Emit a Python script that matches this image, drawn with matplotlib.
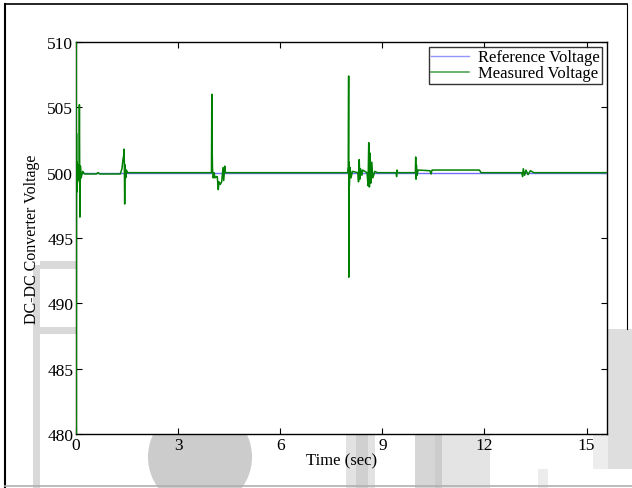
import matplotlib
matplotlib.use('Agg')
import matplotlib.pyplot as plt
from matplotlib.patches import Rectangle, Circle
from matplotlib.lines import Line2D
from matplotlib.transforms import IdentityTransform

# Reference DC-link voltage (constant set point)
ref_time = [0.0, 15.6]
ref_volt = [500.0, 500.0]

# Measured DC-DC converter output voltage
meas_time = [
    0.000, 0.003, 0.008, 0.015, 0.020, 0.030, 0.040, 0.050, 0.060, 0.070,
    0.090, 0.100, 0.115, 0.130, 0.150, 0.200, 0.250, 0.600, 0.650, 0.700,
    1.300, 1.350, 1.380, 1.400, 1.410, 1.420, 1.430, 1.440, 1.460, 1.480,
    1.520, 3.980, 3.990, 4.000, 4.010, 4.030, 4.060, 4.080, 4.120, 4.150,
    4.180, 4.200, 4.240, 4.280, 4.320, 4.340, 4.370, 4.390, 7.980, 8.000,
    8.010, 8.015, 8.020, 8.030, 8.050, 8.080, 8.120, 8.280, 8.300, 8.320,
    8.340, 8.360, 8.400, 8.420, 8.550, 8.580, 8.600, 8.620, 8.640, 8.660,
    8.690, 8.720, 8.780, 8.850, 9.400, 9.420, 9.430, 9.450, 9.970, 9.980,
    9.990, 10.000, 10.020, 10.050, 10.400, 10.430, 10.460, 11.850, 11.900, 13.100,
    13.120, 13.140, 13.180, 13.220, 13.280, 13.350, 13.450, 15.600,
]
meas_volt = [
    470.0, 515.0, 478.0, 503.0, 498.5, 500.8, 499.2, 500.6, 499.4, 500.3,
    499.8, 505.2, 496.6, 500.5, 499.6, 500.1, 499.9, 499.9, 500.0, 499.9,
    499.9, 500.3, 501.0, 501.3, 501.8, 500.8, 497.6, 500.6, 499.6, 500.2,
    500.0, 500.0, 506.0, 502.0, 500.3, 499.6, 500.0, 499.6, 499.7, 499.7,
    498.7, 499.3, 499.1, 499.3, 500.4, 499.4, 500.5, 500.0, 500.0, 500.5,
    507.4, 492.0, 500.8, 499.0, 500.4, 499.6, 500.1, 500.0, 499.3, 501.0,
    499.5, 500.3, 499.8, 500.2, 500.0, 499.0, 502.3, 498.9, 501.5, 499.2,
    500.8, 499.6, 500.1, 500.0, 500.0, 499.7, 500.2, 500.0, 500.0, 501.2,
    499.5, 500.6, 499.8, 500.2, 500.15, 499.9, 500.2, 500.2, 500.0, 500.0,
    499.7, 500.3, 499.8, 500.2, 499.85, 500.15, 500.0, 500.0,
]

x_ticks = [0, 3, 6, 9, 12, 15]
y_ticks = [480, 485, 490, 495, 500, 505, 510]

W, H = 632, 489
plt.rcParams['font.family'] = ['Liberation Serif', 'DejaVu Serif']
fig = plt.figure(figsize=(W / 100, H / 100), dpi=100)


def gray_box(x0, y0, x1, y1, c):
    # box given in pixels, measured from the top-left corner
    fig.add_artist(Rectangle((x0 / W, 1 - y1 / H), (x1 - x0) / W, (y1 - y0) / H,
                             transform=fig.transFigure, color=c, lw=0, zorder=0))


# faint grey background shapes around the plot area
gray_box(33, 266, 40, 489, '#d9d9d9')
gray_box(40, 262, 76, 270, '#d9d9d9')
gray_box(40, 328, 76, 335, '#d9d9d9')
gray_box(346, 436, 375, 489, '#e2e2e2')
gray_box(356, 436, 368, 489, '#d0d0d0')
gray_box(415, 436, 435, 489, '#d6d6d6')
gray_box(435, 436, 442, 489, '#cccccc')
gray_box(442, 436, 490, 489, '#e4e4e4')
gray_box(538, 470, 548, 489, '#ececec')
gray_box(593, 436, 608, 470, '#ededed')
gray_box(608, 330, 632, 470, '#dedede')
fig.add_artist(Circle((200, H - 458), 52, color='#cccccc', lw=0, zorder=0,
                      transform=IdentityTransform()))

# outer frame
fig.add_artist(Line2D([5 / W, 5 / W], [0, 1 - 5 / H], transform=fig.transFigure, color='black', lw=1.5, zorder=1))
fig.add_artist(Line2D([5 / W, 627 / W], [1 - 5 / H, 1 - 5 / H], transform=fig.transFigure, color='black', lw=1.2, zorder=1))
fig.add_artist(Line2D([627 / W, 627 / W], [1 - 5 / H, 1 - 330 / H], transform=fig.transFigure, color='black', lw=0.8, zorder=1))
fig.add_artist(Line2D([5 / W, 632 / W], [1 - 487 / H, 1 - 487 / H], transform=fig.transFigure, color='#b0b0b0', lw=1.2, zorder=1))

ax = fig.add_axes([76 / W, 1 - 435 / H, (607 - 76) / W, (435 - 43) / H])
ax.set_zorder(2)
ax.plot(ref_time, ref_volt, color='#7070ff', linewidth=1.0, label='Reference Voltage', zorder=3)
ax.plot(meas_time, meas_volt, color='#008000', linewidth=1.1, label='Measured Voltage', zorder=3)

ax.set_xlim(0, 15.6)
ax.set_ylim(480, 510)
ax.set_xticks(x_ticks)
ax.set_yticks(y_ticks)
ax.tick_params(direction='in', length=4, width=0.8, top=True, right=True, labelsize=12.5, pad=2)
for s in ax.spines.values():
    s.set_linewidth(1.0)
    s.set_zorder(2.5)
ax.set_xlabel('Time (sec)', fontsize=12, labelpad=0)
ax.set_ylabel('DC-DC Converter Voltage', fontsize=11.5, labelpad=5)

leg = ax.legend(loc='upper right', fontsize=12, frameon=True, fancybox=False,
                borderpad=0.15, labelspacing=0.0, handlelength=2.3, handletextpad=0.5,
                borderaxespad=0.3)
leg.set_zorder(4)
leg.get_frame().set_edgecolor('black')
leg.get_frame().set_linewidth(1.0)
for h in leg.get_lines():
    h.set_alpha(0.75)

fig.savefig('out.png', dpi=100)
